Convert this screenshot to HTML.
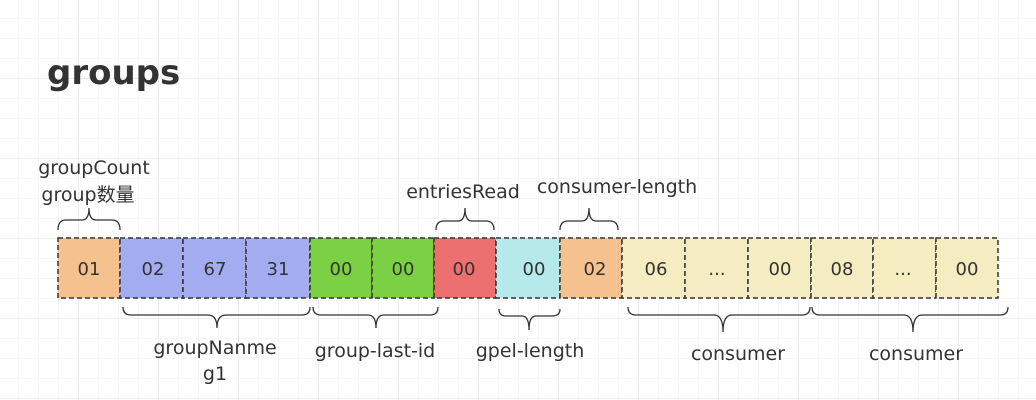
<!DOCTYPE html>
<html><head><meta charset="utf-8"><style>
body{margin:0;width:1036px;height:400px;overflow:hidden;background:#fff;
background-image:linear-gradient(#ececec 1px,transparent 1px),linear-gradient(90deg,#ececec 1px,transparent 1px),linear-gradient(#f6f6f6 1px,transparent 1px),linear-gradient(90deg,#f6f6f6 1px,transparent 1px);
background-size:80px 80px,80px 80px,20px 20px,20px 20px;background-position:-2px -2px;}
svg{position:absolute;left:0;top:0}
text{font-family:"DejaVu Sans","Noto Sans CJK SC",sans-serif;fill:#333}
</style></head><body>
<svg width="1036" height="400">
<text x="47" y="84" font-size="34" font-weight="bold">groups</text>
<g stroke="#333" stroke-width="1.5" stroke-dasharray="5,3">
<rect x="58" y="238" width="62" height="60" fill="#f5c18f"/>
<rect x="120" y="238" width="63" height="60" fill="#a3acf1"/>
<rect x="183" y="238" width="63" height="60" fill="#a3acf1"/>
<rect x="246" y="238" width="64" height="60" fill="#a3acf1"/>
<rect x="310" y="238" width="62" height="60" fill="#7bd143"/>
<rect x="372" y="238" width="62" height="60" fill="#7bd143"/>
<rect x="434" y="238" width="62" height="60" fill="#ec7070"/>
<rect x="496" y="238" width="64" height="60" fill="#b5e9ea"/>
<rect x="560" y="238" width="62" height="60" fill="#f5c18f"/>
<rect x="622" y="238" width="63" height="60" fill="#f6ecc1"/>
<rect x="685" y="238" width="63" height="60" fill="#f6ecc1"/>
<rect x="748" y="238" width="63" height="60" fill="#f6ecc1"/>
<rect x="811" y="238" width="62" height="60" fill="#f6ecc1"/>
<rect x="873" y="238" width="63" height="60" fill="#f6ecc1"/>
<rect x="936" y="238" width="62" height="60" fill="#f6ecc1"/>
</g>
<g font-size="18" text-anchor="middle">
<text x="89" y="275">01</text><text x="153" y="275">02</text><text x="215" y="275">67</text><text x="278" y="275">31</text>
<text x="341" y="275">00</text><text x="403" y="275">00</text><text x="464" y="275">00</text><text x="534" y="275">00</text>
<text x="595" y="275">02</text><text x="656" y="275">06</text><text x="717" y="275">...</text><text x="780" y="275">00</text>
<text x="842" y="275">08</text><text x="903" y="275">...</text><text x="967" y="275">00</text>
</g>
<g fill="none" stroke="#333" stroke-width="1.3">
<path d="M58,230 Q58,220 66,220 L82,220 Q89,220 89,208 Q89,220 96,220 L112,220 Q120,220 120,230"/>
<path d="M436,230 Q436,221 444,221 L458,221 Q465,221 465,208 Q465,221 472,221 L486,221 Q494,221 494,230"/>
<path d="M560,230 Q560,221 568,221 L582,221 Q589,221 589,208 Q589,221 596,221 L610,221 Q618,221 618,230"/>
<path d="M123,307 Q123,315 131,315 L208,315 Q217,315 217,328 Q217,315 226,315 L302,315 Q310,315 310,307"/>
<path d="M313,307 Q313,315 321,315 L368,315 Q376,315 376,328 Q376,315 384,315 L430,315 Q438,315 438,307"/>
<path d="M499,309 Q499,316 506,316 L522,316 Q529,316 529,330 Q529,316 536,316 L552,316 Q560,316 560,309"/>
<path d="M628,307 Q628,315 636,315 L714,315 Q723,315 723,332 Q723,315 732,315 L802,315 Q810,315 810,307"/>
<path d="M812,307 Q812,315 820,315 L904,315 Q913,315 913,332 Q913,315 922,315 L1000,315 Q1008,315 1008,307"/>
</g>
<g font-size="19" text-anchor="middle">
<text x="94" y="174">groupCount</text><text x="88" y="201">group数量</text>
<text x="463" y="198">entriesRead</text>
<text x="617" y="193">consumer-length</text>
<text x="215" y="354">groupNanme</text><text x="215" y="380">g1</text>
<text x="375" y="357">group-last-id</text>
<text x="530" y="357">gpel-length</text>
<text x="738" y="360">consumer</text>
<text x="916" y="360">consumer</text>
</g>
</svg>
</body></html>
